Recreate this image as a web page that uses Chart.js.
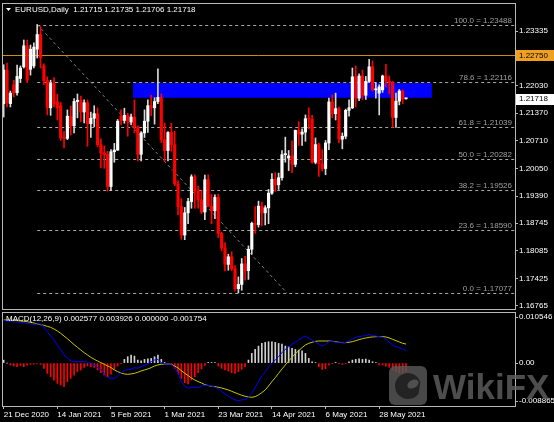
<!DOCTYPE html>
<html>
<head>
<meta charset="utf-8">
<title>EURUSD Daily</title>
<script src="https://cdn.jsdelivr.net/npm/chart.js@4.4.1/dist/chart.umd.min.js"></script>
<style>
  html, body { margin: 0; padding: 0; background: #000; }
  #wrap { position: relative; width: 554px; height: 422px; overflow: hidden; }
  canvas { position: absolute; left: 0; }
  #price { top: 0; }
  #macd { top: 311px; }
</style>
</head>
<body>
<div id="wrap">
  <canvas id="price" width="554" height="311"></canvas>
  <canvas id="macd" width="554" height="111"></canvas>
</div>
<script>
// EURUSD daily candles, 21 Dec 2020 .. 9 Jun 2021 (121 bars)
const openP = [
  1.2160, 1.2240, 1.2160, 1.2205, 1.2186, 1.2220, 1.2248, 1.2298, 1.2242, 1.2250, 1.2290, 1.2325,
  1.2250, 1.2215, 1.2150, 1.2208, 1.2165, 1.2155, 1.2078, 1.2077, 1.2130, 1.2107, 1.2165, 1.2168,
  1.2140, 1.2162, 1.2112, 1.2125, 1.2136, 1.2062, 1.2042, 1.2038, 1.1962, 1.2045, 1.2049, 1.2130,
  1.2120, 1.2132, 1.2116, 1.2128, 1.2104, 1.2039, 1.2090, 1.2118, 1.2155, 1.2150, 1.2165, 1.2175,
  1.2074, 1.2048, 1.2091, 1.2062, 1.1968, 1.1914, 1.1846, 1.1899, 1.1926, 1.1985, 1.1951, 1.1930,
  1.1901, 1.1978, 1.1915, 1.1904, 1.1936, 1.1850, 1.1815, 1.1776, 1.1794, 1.1765, 1.1718, 1.1728,
  1.1777, 1.1761, 1.1812, 1.1874, 1.1871, 1.1915, 1.1899, 1.1911, 1.1946, 1.1979, 1.1966, 1.1983,
  1.2038, 1.2030, 1.2035, 1.2015, 1.2096, 1.2087, 1.2092, 1.2124, 1.2123, 1.2020, 1.2062, 1.2016,
  1.2005, 1.2066, 1.2164, 1.2136, 1.2148, 1.2075, 1.2082, 1.2144, 1.2150, 1.2224, 1.2173, 1.2226,
  1.2180, 1.2213, 1.2248, 1.2193, 1.2185, 1.2193, 1.2226, 1.2214, 1.2210, 1.2127, 1.2166, 1.2190,
  1.21715
];
const highP = [
  1.2253, 1.2257, 1.2190, 1.2216, 1.2252, 1.2250, 1.2312, 1.2312, 1.2300, 1.2305, 1.2349, 1.2344,
  1.2255, 1.2224, 1.2216, 1.2222, 1.2182, 1.2163, 1.2094, 1.2145, 1.2154, 1.2172, 1.2183, 1.2178,
  1.2169, 1.2169, 1.2140, 1.2155, 1.2150, 1.2076, 1.2059, 1.2046, 1.2050, 1.2065, 1.2122, 1.2145,
  1.2149, 1.2137, 1.2135, 1.2169, 1.2107, 1.2093, 1.2145, 1.2169, 1.2180, 1.2174, 1.2243, 1.2183,
  1.2114, 1.2093, 1.2113, 1.2094, 1.1976, 1.1933, 1.1912, 1.1934, 1.1990, 1.1990, 1.1963, 1.1952,
  1.1989, 1.1990, 1.1943, 1.1942, 1.1944, 1.1853, 1.1828, 1.1800, 1.1806, 1.1773, 1.1746, 1.1790,
  1.1795, 1.1820, 1.1877, 1.1914, 1.1927, 1.1925, 1.1916, 1.1955, 1.1993, 1.1995, 1.1994, 1.2048,
  1.2080, 1.2048, 1.2071, 1.2097, 1.2117, 1.2100, 1.2133, 1.2150, 1.2132, 1.2078, 1.2066, 1.2050,
  1.2072, 1.2173, 1.2181, 1.2185, 1.2152, 1.2090, 1.2147, 1.2169, 1.2245, 1.2250, 1.2231, 1.2240,
  1.2225, 1.2266, 1.2262, 1.2210, 1.2205, 1.2228, 1.2254, 1.2226, 1.2213, 1.2185, 1.2194, 1.2193,
  1.21735
];
const lowP = [
  1.2128, 1.2152, 1.2152, 1.2176, 1.2180, 1.2210, 1.2245, 1.2210, 1.2228, 1.2245, 1.2269, 1.2245,
  1.2205, 1.2133, 1.2132, 1.2152, 1.2121, 1.2072, 1.2054, 1.2074, 1.2085, 1.2090, 1.2126, 1.2117,
  1.2114, 1.2058, 1.2079, 1.2105, 1.2057, 1.2007, 1.2005, 1.1951, 1.1952, 1.2020, 1.2048, 1.2109,
  1.2113, 1.2082, 1.2110, 1.2090, 1.2023, 1.2023, 1.2079, 1.2091, 1.2131, 1.2111, 1.2160, 1.2067,
  1.2022, 1.2023, 1.2046, 1.1964, 1.1894, 1.1836, 1.1835, 1.1873, 1.1910, 1.1910, 1.1910, 1.1897,
  1.1883, 1.1914, 1.1873, 1.1885, 1.1840, 1.1808, 1.1760, 1.1762, 1.1761, 1.1712, 1.17077, 1.1714,
  1.1738, 1.1740, 1.1800, 1.1850, 1.1865, 1.1868, 1.1870, 1.1873, 1.1943, 1.1950, 1.1955, 1.1977,
  1.2020, 1.2000, 1.1995, 1.2009, 1.2060, 1.2060, 1.2070, 1.2100, 1.2018, 1.2016, 1.1986, 1.1999,
  1.1990, 1.2050, 1.2126, 1.2121, 1.2066, 1.2052, 1.2076, 1.2130, 1.2148, 1.2152, 1.2167, 1.2170,
  1.2170, 1.2212, 1.2190, 1.2173, 1.2133, 1.2187, 1.2200, 1.2183, 1.2103, 1.2103, 1.2157, 1.2160,
  1.21706
];
const closeP = [
  1.2240, 1.2162, 1.2185, 1.2185, 1.2225, 1.2245, 1.2298, 1.2216, 1.2290, 1.2295, 1.2325, 1.2270,
  1.2215, 1.2150, 1.2208, 1.2158, 1.2150, 1.2078, 1.2077, 1.2130, 1.2107, 1.2165, 1.2168, 1.2140,
  1.2162, 1.2112, 1.2125, 1.2136, 1.2062, 1.2042, 1.2038, 1.1962, 1.2045, 1.2049, 1.2118, 1.2120,
  1.2132, 1.2118, 1.2128, 1.2104, 1.2039, 1.2090, 1.2118, 1.2155, 1.2150, 1.2165, 1.2175, 1.2074,
  1.2048, 1.2091, 1.2062, 1.1968, 1.1914, 1.1846, 1.1899, 1.1926, 1.1985, 1.1951, 1.1930, 1.1901,
  1.1978, 1.1915, 1.1904, 1.1936, 1.1850, 1.1815, 1.1776, 1.1794, 1.1765, 1.1718, 1.1728, 1.1777,
  1.1761, 1.1812, 1.1874, 1.1871, 1.1915, 1.1899, 1.1911, 1.1946, 1.1979, 1.1966, 1.1983, 1.2038,
  1.2040, 1.2035, 1.2015, 1.2096, 1.2087, 1.2092, 1.2124, 1.2123, 1.2020, 1.2062, 1.2016, 1.2005,
  1.2066, 1.2164, 1.2136, 1.2148, 1.2075, 1.2082, 1.2144, 1.2150, 1.2224, 1.2173, 1.2226, 1.2180,
  1.2213, 1.2248, 1.2193, 1.2195, 1.2200, 1.2226, 1.2214, 1.2210, 1.2127, 1.2166, 1.2190, 1.2171,
  1.21718
];

// MACD(12,26,9), read in pips (x 0.0001)
const macdMain = [
  87.6, 86.9, 86.2, 84.8, 84.8, 83.5, 83.5, 82.1, 80.7, 80.0, 80.7, 80.7,
  75.2, 64.9, 55.9, 47.7, 37.4, 28.4, 16.7, 9.8, 5.0, 3.0, 3.0, 3.0,
  3.0, 1.6, -0.5, -3.9, -8.7, -14.2, -21.1, -30.1, -31.4, -31.4, -26.6, -19.7,
  -15.6, -12.9, -12.9, -9.4, -10.8, -7.4, -3.9, -1.9, 3.0, 6.4, 7.8, 0.9,
  -1.9, -1.9, -2.5, -8.7, -21.1, -38.3, -47.3, -52.1, -50.0, -50.0, -50.7, -47.3,
  -45.9, -45.9, -47.3, -50.0, -52.8, -59.0, -63.8, -67.9, -72.7, -76.2, -77.5, -76.2,
  -74.8, -70.7, -62.4, -50.0, -38.3, -26.6, -17.7, -8.7, -0.5, 6.4, 13.3, 21.5,
  28.4, 33.9, 38.7, 42.9, 47.7, 52.5, 55.9, 51.1, 47.7, 42.9, 39.4, 35.3,
  38.7, 44.2, 44.9, 42.9, 42.9, 42.9, 42.2, 46.3, 49.7, 53.2, 54.6, 55.9,
  56.6, 59.4, 56.6, 55.9, 54.6, 53.2, 49.1, 42.9, 37.4, 33.9, 31.9, 29.1, 25.77
];
const macdSignal = [
  89.0, 89.0, 88.3, 88.3, 87.6, 86.9, 86.2, 85.5, 84.1, 82.8, 80.7, 79.3,
  78.0, 75.9, 73.8, 70.4, 66.3, 61.4, 55.9, 50.4, 44.2, 38.0, 32.5, 27.0,
  21.5, 16.7, 11.9, 7.8, 4.3, 0.9, -2.5, -6.0, -9.4, -14.2, -17.7, -20.4,
  -22.5, -23.2, -22.5, -21.1, -19.1, -16.3, -14.2, -12.2, -9.4, -6.0, -3.9, -2.5,
  -1.9, -1.9, -2.5, -6.0, -10.1, -15.6, -21.1, -25.9, -30.8, -34.9, -38.3, -41.1,
  -44.5, -46.5, -47.9, -48.6, -50.0, -51.4, -53.5, -55.5, -58.3, -61.0, -63.8, -66.5,
  -68.6, -70.0, -70.7, -69.3, -65.8, -61.0, -55.5, -47.3, -38.3, -30.1, -21.1, -12.2,
  -3.9, 4.3, 11.9, 19.5, 25.7, 31.9, 37.4, 40.8, 42.9, 44.9, 45.6, 45.6,
  45.6, 45.6, 44.9, 44.2, 42.9, 42.2, 42.2, 42.9, 44.2, 46.3, 48.4, 50.4,
  51.8, 53.2, 53.9, 54.6, 54.6, 54.6, 53.9, 51.8, 49.1, 46.3, 43.6, 40.8, 39.26
];
const macdHist = [
  6.0, 0, -4.1, -6.2, -7.6, -4.8, -7.6, -4.1, -2.8, -2.1, -0.7, -2.8,
  -11.0, -21.3, -28.2, -35.1, -42.0, -45.4, -48.8, -38.5, -31.6, -24.8, -17.9, -14.4,
  -8.9, -6.2, -7.6, -8.9, -14.4, -20.0, -24.8, -28.2, -22.7, -13.1, -6.2, -0.7,
  7.6, 13.1, 16.5, 14.4, 6.2, 4.8, 7.6, 8.9, 9.6, 13.1, 16.5, 7.6,
  0.7, -0.7, -4.1, -11.0, -21.3, -31.6, -40.6, -43.3, -35.0, -28.0, -20.0, -12.0,
  -5.0, 1.4, 1.4, 0.7, -6.2, -11.0, -14.4, -16.5, -20.0, -21.3, -17.9, -13.1,
  -7.6, 6.2, 20.0, 28.2, 35.1, 40.6, 42.7, 44.0, 44.0, 42.7, 40.6, 39.2,
  35.1, 33.7, 30.3, 28.2, 26.8, 25.5, 20.0, 9.6, 2.8, 0.7, -7.6, -13.1,
  -11.7, -4.1, -0.7, 1.4, -0.7, -2.8, -0.7, 2.8, 6.2, 7.6, 8.9, 7.6,
  8.3, 6.2, 2.8, 0.7, -4.1, -4.1, -6.2, -8.9, -14.4, -17.9, -20.0, -20.0, -17.54
];

const priceTicks = [1.23335, 1.22670, 1.22030, 1.21370, 1.20710, 1.20050, 1.19390, 1.18745, 1.18085, 1.17425, 1.16765];
const macdTicks = [0.009513, 0, -0.007833];          // where MT4 prints the window labels
const macdTickLabels = ['0.010546', '0.00', '-0.008865'];
const dateTicks = [0, 16, 32, 48, 64, 80, 96, 112];

const fibLevels = ['100.0', '78.6', '61.8', '50.0', '38.2', '23.6', '0.0'];
const fibPrices = [1.23488, 1.22116, 1.21039, 1.20282, 1.19526, 1.18590, 1.17077];
const fibFrom = 10, fibTo = 84.5;                     // bar positions of the retracement tool
const zone = { from: 38.6, to: 127.7, top: 1.2209, bottom: 1.2174 };
const hLine = 1.22750;

const FONT = '"Liberation Sans", Arial, sans-serif';
const SLOTS = 153;   // bars that fit the window (incl. empty space on the right)

// trading calendar: weekdays, no bars on 25 Dec / 1 Jan
const MONTHS = ['Jan', 'Feb', 'Mar', 'Apr', 'May', 'Jun', 'Jul', 'Aug', 'Sep', 'Oct', 'Nov', 'Dec'];
const dates = [];
for (let d = new Date(Date.UTC(2020, 11, 21)); dates.length < SLOTS; d.setUTCDate(d.getUTCDate() + 1)) {
  const wd = d.getUTCDay(), m = d.getUTCMonth(), dd = d.getUTCDate();
  if (wd === 0 || wd === 6 || (m === 11 && dd === 25) || (m === 0 && dd === 1)) continue;
  dates.push(dd + ' ' + MONTHS[m] + ' ' + d.getUTCFullYear());
}

const last = closeP.length - 1;
const up = closeP.map((c, i) => c >= openP[i]);
const bodyColor = up.map(u => u ? '#ffffff' : '#ff0000');
const wickColor = up.map(u => u ? '#d8d8d8' : '#ff0000');

function fixWidth(s) { s.width = 39; s.paddingTop = 0; s.paddingBottom = 0; }

function tag(ctx, a, w, py, text, bg) {
  ctx.fillStyle = bg;
  ctx.fillRect(a.right + 1, Math.round(py) - 5, w - a.right - 1, 11);
  ctx.fillStyle = '#000';
  ctx.textAlign = 'left';
  ctx.textBaseline = 'middle';
  ctx.fillText(text, a.right + 4, py + 0.5);
}

const priceOverlay = {
  id: 'priceOverlay',
  beforeDatasetsDraw(chart) {
    const { ctx, chartArea: a, scales: { x, y } } = chart;
    ctx.save();
    ctx.beginPath();
    ctx.rect(a.left, a.top, a.right - a.left, a.bottom - a.top);
    ctx.clip();

    // blue zone
    const zx1 = x.getPixelForValue(zone.from), zx2 = x.getPixelForValue(zone.to);
    const zy1 = y.getPixelForValue(zone.top), zy2 = y.getPixelForValue(zone.bottom);
    ctx.fillStyle = '#0000ff';
    ctx.fillRect(zx1, zy1, zx2 - zx1, zy2 - zy1);

    // fibonacci levels
    const fx = x.getPixelForValue(fibFrom);
    ctx.lineWidth = 1;
    ctx.setLineDash([3, 3]);
    ctx.font = '8px ' + FONT;
    ctx.textAlign = 'right';
    ctx.textBaseline = 'bottom';
    fibPrices.forEach((p, i) => {
      const py = Math.round(y.getPixelForValue(p)) + 0.5;
      ctx.strokeStyle = '#a8a8a8';
      ctx.beginPath();
      ctx.moveTo(fx, py);
      ctx.lineTo(a.right, py);
      ctx.stroke();
      ctx.fillStyle = '#a0a0a0';
      ctx.fillText(fibLevels[i] + ' = ' + p.toFixed(5), a.right - 3, py - 1);
    });
    ctx.strokeStyle = '#808080';
    ctx.beginPath();
    ctx.moveTo(fx, y.getPixelForValue(fibPrices[0]));
    ctx.lineTo(x.getPixelForValue(fibTo), y.getPixelForValue(fibPrices[fibPrices.length - 1]));
    ctx.stroke();
    ctx.setLineDash([]);

    // horizontal line
    const hy = Math.round(y.getPixelForValue(hLine)) + 0.5;
    ctx.strokeStyle = '#d08c10';
    ctx.beginPath();
    ctx.moveTo(a.left, hy);
    ctx.lineTo(a.right, hy);
    ctx.stroke();
    ctx.restore();
  },
  afterDraw(chart) {
    const { ctx, chartArea: a, scales: { y } } = chart;
    ctx.save();
    ctx.strokeStyle = '#b8b8b8';
    ctx.lineWidth = 1;
    ctx.strokeRect(a.left + 0.5, a.top + 0.5, a.right - a.left, a.bottom - a.top);

    ctx.fillStyle = '#ffffff';
    ctx.beginPath();
    ctx.moveTo(6, 8); ctx.lineTo(11, 8); ctx.lineTo(8.5, 11);
    ctx.fill();
    ctx.font = '8px ' + FONT;
    ctx.textAlign = 'left';
    ctx.textBaseline = 'middle';
    const ohlc = [openP[last], highP[last], lowP[last], closeP[last]].map(v => v.toFixed(5)).join(' ');
    ctx.fillText('EURUSD,Daily  ' + ohlc, 15, 10);

    tag(ctx, a, chart.width, y.getPixelForValue(hLine), hLine.toFixed(5), '#f0a020');
    tag(ctx, a, chart.width, y.getPixelForValue(closeP[last]), closeP[last].toFixed(5), '#ffffff');
    ctx.restore();
  }
};

const macdOverlay = {
  id: 'macdOverlay',
  afterDraw(chart) {
    const { ctx, chartArea: a } = chart;
    ctx.save();
    ctx.strokeStyle = '#b8b8b8';
    ctx.lineWidth = 1;
    ctx.strokeRect(a.left + 0.5, a.top + 0.5, a.right - a.left, a.bottom - a.top);

    ctx.font = '8px ' + FONT;
    ctx.fillStyle = '#ffffff';
    ctx.textAlign = 'left';
    ctx.textBaseline = 'middle';
    const h = macdHist[last] / 10000;
    const vals = [macdMain[last] / 10000, macdSignal[last] / 10000, Math.max(h, 0), Math.min(h, 0)];
    ctx.fillText('MACD(12,26,9) ' + vals.map(v => v.toFixed(6)).join(' '), 6, 8);

    // watermark
    ctx.globalAlpha = 0.8;
    ctx.fillStyle = '#5a5a5a';
    ctx.beginPath();
    ctx.roundRect(389, 55, 38, 39, 6);
    ctx.fill();
    ctx.fillStyle = '#1a1a1a';
    ctx.beginPath();
    ctx.arc(408, 75, 13, 0.2 * Math.PI, 1.9 * Math.PI);
    ctx.fill();
    ctx.fillStyle = '#5a5a5a';
    ctx.beginPath();
    ctx.ellipse(413, 73, 6, 4, -0.5, 0, 2 * Math.PI);
    ctx.fill();
    ctx.fillStyle = '#606060';
    ctx.font = 'bold 35px ' + FONT;
    ctx.textBaseline = 'alphabetic';
    ctx.fillText('WikiFX', 433, 88);
    ctx.restore();
  }
};

const tickFont = { family: FONT, size: 8 };

new Chart(document.getElementById('price'), {
  type: 'bar',
  data: {
    labels: dates,
    datasets: [
      { data: lowP.map((l, i) => [l, highP[i]]), backgroundColor: wickColor, barThickness: 1, grouped: false, order: 2 },
      { data: openP.map((o, i) => [o, closeP[i]]), backgroundColor: bodyColor, barThickness: 2.5, minBarLength: 1, grouped: false, order: 1 }
    ]
  },
  options: {
    responsive: false,
    animation: false,
    events: [],
    layout: { padding: { left: 2, top: 3, right: 0, bottom: 2 } },
    plugins: { legend: { display: false }, tooltip: { enabled: false } },
    scales: {
      x: { display: false, offset: true, grid: { offset: false } },
      y: {
        position: 'right',
        min: 1.16693,
        max: 1.24004,
        afterBuildTicks: s => { s.ticks = priceTicks.map(v => ({ value: v })); },
        afterFit: fixWidth,
        border: { display: false },
        grid: { drawOnChartArea: false, tickLength: 3, color: '#b8b8b8' },
        ticks: { color: '#ffffff', padding: 1, font: tickFont, callback: v => v.toFixed(5) }
      }
    }
  },
  plugins: [priceOverlay]
});

new Chart(document.getElementById('macd'), {
  type: 'bar',
  data: {
    labels: dates,
    datasets: [
      { type: 'line', data: macdMain.map(v => v / 10000), borderColor: '#0000ff', borderWidth: 1, pointRadius: 0, order: 1 },
      { type: 'line', data: macdSignal.map(v => v / 10000), borderColor: '#c8c800', borderWidth: 1, pointRadius: 0, order: 2 },
      { data: macdHist.map(v => v / 10000), backgroundColor: macdHist.map(v => v >= 0 ? '#d0d0d0' : '#ff0000'), barThickness: 1, order: 3 }
    ]
  },
  options: {
    responsive: false,
    animation: false,
    events: [],
    layout: { padding: { left: 2, top: 1, right: 0, bottom: 0 } },
    plugins: { legend: { display: false }, tooltip: { enabled: false } },
    scales: {
      x: {
        offset: true,
        afterBuildTicks: s => { s.ticks = dateTicks.map(v => ({ value: v })); },
        afterFit: s => { s.height = 16; s.paddingLeft = 0; s.paddingRight = 0; },
        border: { display: false },
        grid: { offset: false, drawOnChartArea: false, tickLength: 3, color: '#b8b8b8' },
        ticks: { color: '#ffffff', padding: 1, align: 'start', autoSkip: false, maxRotation: 0, font: tickFont }
      },
      y: {
        position: 'right',
        min: -0.008865,
        max: 0.010546,
        afterBuildTicks: s => { s.ticks = macdTicks.map(v => ({ value: v })); },
        afterFit: fixWidth,
        border: { display: false },
        grid: { drawOnChartArea: false, tickLength: 3, color: '#b8b8b8' },
        ticks: { color: '#ffffff', padding: 1, font: tickFont, callback: (v, i) => macdTickLabels[i] }
      }
    }
  },
  plugins: [macdOverlay]
});
</script>
</body>
</html>
